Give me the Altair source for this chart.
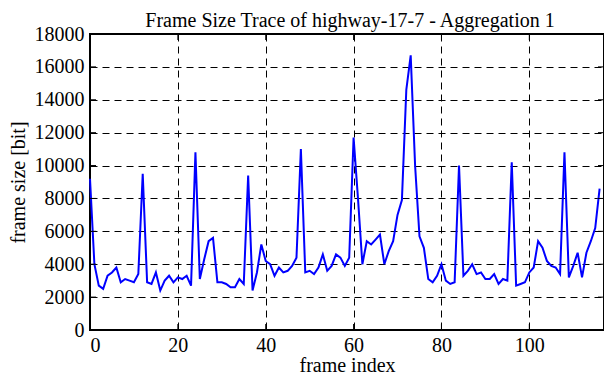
import altair as alt
import pandas as pd

frame_size = [
    9200, 4000, 2700, 2500, 3300, 3500, 3800, 2900, 3100, 3000,
    2900, 3400, 9500, 2900, 2800, 3500, 2400, 3000, 3300, 2900,
    3200, 3100, 3300, 2700, 10800, 3100, 4300, 5400, 5600, 2900,
    2900, 2800, 2600, 2600, 3100, 2800, 9400, 2400, 3500, 5200,
    4200, 4000, 3300, 3800, 3500, 3600, 3900, 4400, 11000, 3500,
    3600, 3400, 3800, 4600, 3600, 3900, 4600, 4400, 3900, 4400,
    11700, 8000, 4000, 5400, 5200, 5500, 5800, 4000, 4800, 5400,
    7000, 7900, 14600, 16700, 10000, 5700, 5000, 3100, 2900, 3300,
    4000, 3000, 2800, 2900, 10000, 3300, 3600, 4000, 3400, 3500,
    3100, 3100, 3400, 2800, 3100, 3000, 10200, 2700, 2800, 2900,
    3500, 3800, 5400, 5000, 4200, 3900, 3800, 3400, 10800, 3200,
    3900, 4700, 3200, 4700, 5400, 6200, 8600,
]
frame_index = list(range(len(frame_size)))
x_ticks = [0, 20, 40, 60, 80, 100]
y_ticks = [0, 2000, 4000, 6000, 8000, 10000, 12000, 14000, 16000, 18000]
title_text = ["Frame Size Trace of highway-17-7 - Aggregation 1"]

W, H = 514, 296
FONT = "Liberation Serif"

df = pd.DataFrame({"i": frame_index, "s": frame_size})
xt = pd.DataFrame({"i": x_ticks})
yt = pd.DataFrame({"s": y_ticks})
tt = pd.DataFrame({"t": title_text})

xs = alt.Scale(domain=[0, 117], nice=False, zero=False)
ys = alt.Scale(domain=[0, 18000], nice=False)
xax = alt.Axis(values=x_ticks, format="d", grid=True)
yax = alt.Axis(values=y_ticks, format="d", grid=True)
X = alt.X("i:Q", scale=xs, title="frame index", axis=xax)
Y = alt.Y("s:Q", scale=ys, title="frame size [bit]", axis=yax)

line = alt.Chart(df).mark_line(color="#0000FF", strokeWidth=2).encode(x=X, y=Y)

tick_len = 6
xb = alt.Chart(xt).mark_rule(color="black", strokeWidth=1).encode(
    x=X, y=alt.value(H), y2=alt.value(H - tick_len))
xtop = alt.Chart(xt).mark_rule(color="black", strokeWidth=1).encode(
    x=X, y=alt.value(0), y2=alt.value(tick_len))
yl = alt.Chart(yt).mark_rule(color="black", strokeWidth=1).encode(
    y=Y, x=alt.value(0), x2=alt.value(tick_len))
yr = alt.Chart(yt).mark_rule(color="black", strokeWidth=1).encode(
    y=Y, x=alt.value(W), x2=alt.value(W - tick_len))

title = alt.Chart(tt).mark_text(
    font=FONT, fontSize=20, color="black", align="center", baseline="alphabetic"
).encode(text="t:N", x=alt.value(W / 2 + 3), y=alt.value(-7))

chart = alt.layer(line, xb, xtop, yl, yr, title).properties(
    width=W, height=H,
    autosize=alt.AutoSizeParams(type="none"),
    padding={"left": 82, "top": 26, "right": 0, "bottom": 44},
).configure_view(
    stroke="black", strokeWidth=2
).configure_axis(
    domain=False, ticks=False,
    gridColor="black", gridDash=[7, 5], gridWidth=1, gridOpacity=1,
    labelFont=FONT, labelFontSize=20, labelColor="black",
    titleFont=FONT, titleFontSize=20, titleColor="black", titleFontWeight="normal",
    labelPadding=6,
).configure_axisY(
    titlePadding=6,
).configure_axisX(
    labelPadding=5, titlePadding=0,
)

chart.save("out.html", embed_options={"renderer": "svg", "actions": False})
